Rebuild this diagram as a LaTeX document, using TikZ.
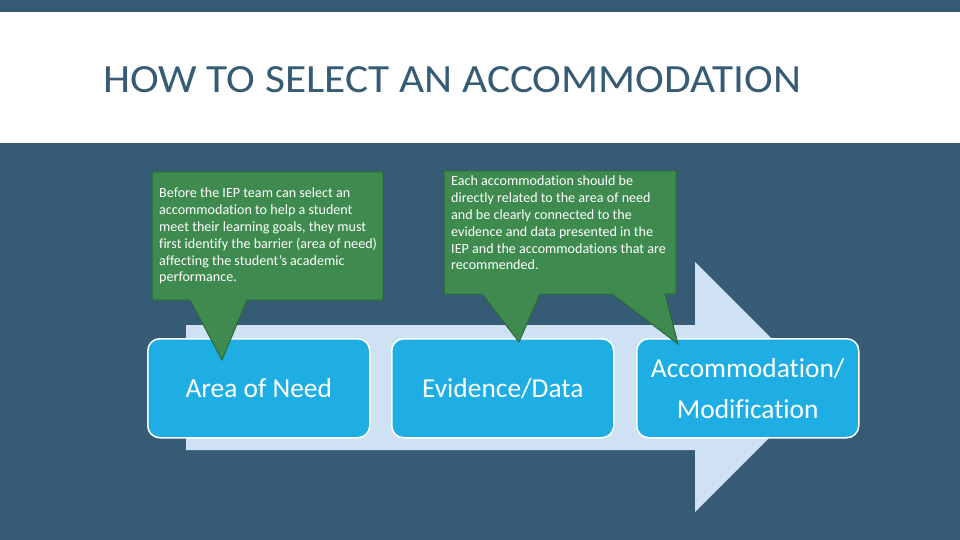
\documentclass[tikz,border=0pt]{standalone}
\usepackage{fontspec}
\setmainfont{Carlito}[Ligatures=NoCommon]
\definecolor{darkbg}{RGB}{54,91,116}
\definecolor{arrowblue}{RGB}{207,226,243}
\definecolor{boxblue}{RGB}{31,174,227}
\definecolor{calloutgreen}{RGB}{62,138,79}
\definecolor{calloutedge}{RGB}{44,104,58}
\tikzset{
  stepbox/.style={draw=white, line width=1.5pt, fill=boxblue, rounded corners=12pt,
    minimum width=222pt, minimum height=99pt, anchor=north west, text=white,
    font=\fontsize{27.4}{41}\selectfont, align=center, inner sep=0pt},
  callout/.style={fill=calloutgreen, draw=calloutedge, line width=1pt, line join=miter},
  callouttext/.style={text=white, font=\fontsize{14.1}{16.8}\selectfont, align=left,
    anchor=north west, inner sep=0pt},
}
\begin{document}
\begin{tikzpicture}[x=1pt,y=-1pt]
\useasboundingbox (0,0) rectangle (960,540);
\fill[darkbg] (0,0) rectangle (960,540);
\fill[white] (0,12) rectangle (960,143);
\node[anchor=base west, inner sep=0pt, text=darkbg, font=\fontsize{40}{40}\selectfont] (title) at (103,93) {\scalebox{1.084}[1]{HOW TO SELECT AN ACCOMMODATION}};
% big arrow
\fill[arrowblue] (186,325) -- (695,325) -- (695,262) -- (820,387) -- (695,512) -- (695,450) -- (186,450) -- cycle;
% boxes
\node[stepbox] (need) at (147,338) {Area of Need};
\node[stepbox] (evid) at (391,338) {Evidence/Data};
\node[stepbox] (acc) at (636,338) {Accommodation/\\Modification};
% callout 1
\path[callout] (152,172) -- (383,172) -- (383,300) -- (247,300) -- (222,360) -- (190,300) -- (152,300) -- cycle;
\node[callouttext] (t1) at (159,188) {Before the IEP team can select an\\accommodation to help a student\\meet their learning goals, they must\\first identify the barrier (area of need)\\affecting the student's academic\\performance.};
% callout 2
\path[callout] (444,171) -- (676,171) -- (676,294) -- (665,294) -- (678,344) -- (612,294) -- (540,294) -- (519,342) -- (482,294) -- (444,294) -- cycle;
\node[callouttext] (t2) at (451,176) {Each accommodation should be\\directly related to the area of need\\and be clearly connected to the\\evidence and data presented in the\\IEP and the accommodations that are\\recommended.};
\end{tikzpicture}
\end{document}
